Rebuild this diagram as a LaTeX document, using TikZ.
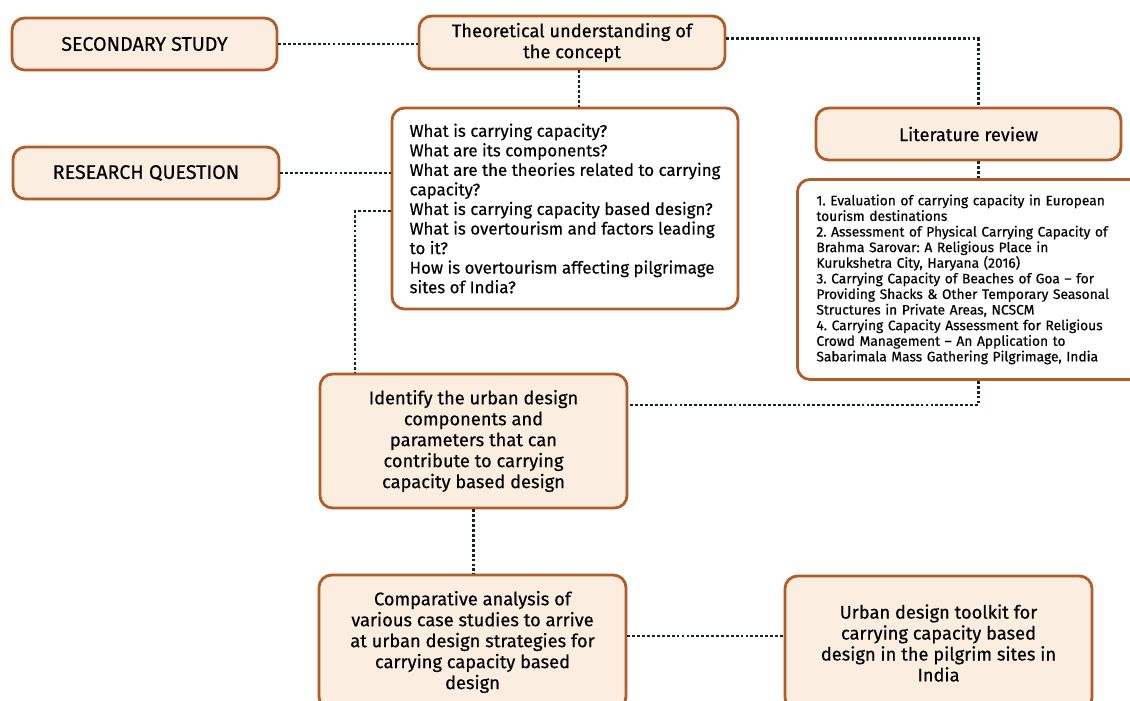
\documentclass[tikz,border=0pt]{standalone}
\usepackage{fontspec}
\setmainfont{Fira Sans}[UprightFeatures={FakeBold=0.35}]
\frenchspacing
\definecolor{boxedge}{RGB}{178,92,40}
\definecolor{boxfill}{RGB}{252,237,225}
\definecolor{dotline}{RGB}{20,38,34}
\begin{document}
\begin{tikzpicture}[x=0.025cm,y=-0.025cm,
    box/.style={draw=boxedge, line width=2pt, fill=boxfill, rounded corners=9pt,
        align=center, inner sep=0pt, font=\fontsize{13}{14.9}\selectfont},
    capsbox/.style={box, font=\fontsize{14}{16}\selectfont},
    link/.style={dotline, line width=2pt, dash pattern=on 2pt off 1.5pt}]
    \useasboundingbox (0,0) rectangle (1130,700);
    % left column
    \node[capsbox, minimum width=6.625cm, minimum height=1.3cm] (sec) at (144.5,44) {SECONDARY STUDY};
    \node[capsbox, minimum width=6.65cm, minimum height=1.3cm] (resq) at (146,173) {RESEARCH QUESTION};
    % middle column
    \node[box, minimum width=7.65cm, minimum height=1.325cm] (theo) at (572,42.5) {Theoretical understanding of\\the concept};
    \node[box, fill=white, align=left, minimum width=8.65cm, minimum height=5.025cm,
        font=\fontsize{12}{13.9}\selectfont] (ques) at (565,208.5)
        {What is carrying capacity?\\What are its components?\\What are the theories related to carrying\\capacity?\\What is carrying capacity based design?\\What is overtourism and factors leading\\to it?\\How is overtourism affecting pilgrimage\\sites of India?};
    \node[box, minimum width=7.675cm, minimum height=3.35cm] (iden) at (473.5,441)
        {Identify the urban design\\components and\\parameters that can\\contribute to carrying\\capacity based design};
    \node[box, minimum width=7.675cm, minimum height=3.35cm] (comp) at (472.5,642)
        {Comparative analysis of\\various case studies to arrive\\at urban design strategies for\\carrying capacity based\\design};
    % right column
    \node[box, minimum width=7.625cm, minimum height=1.3cm] (litr) at (968.5,134) {Literature review};
    \node[box, fill=white, align=left, anchor=north west, text width=8cm, inner xsep=0.475cm,
        minimum height=5cm, font=\fontsize{9.8}{11.1}\selectfont] (lits) at (796,178)
        {1. Evaluation of carrying capacity in European\\tourism destinations\\2. Assessment of Physical Carrying Capacity of\\Brahma Sarovar: A Religious Place in\\Kurukshetra City, Haryana (2016)\\3. Carrying Capacity of Beaches of Goa -- for\\Providing Shacks \& Other Temporary Seasonal\\Structures in Private Areas, NCSCM\\4. Carrying Capacity Assessment for Religious\\Crowd Management -- An Application to\\Sabarimala Mass Gathering Pilgrimage, India};
    \node[box, minimum width=7.675cm, minimum height=3.35cm] (tool) at (938.5,643)
        {Urban design toolkit for\\carrying capacity based\\design in the pilgrim sites in\\India};
    % links
    \coordinate (bendq) at (355,211);
    \draw[link] (sec.east) -- (sec.east -| theo.west);
    \draw[link] ([yshift=0.1cm]theo.east) -| ([xshift=0.24cm]litr.north);
    \draw[link] ([xshift=0.175cm]theo.south) -- ([xshift=0.175cm]theo.south |- ques.north);
    \draw[link] (resq.east) -- (resq.east -| ques.west);
    \draw[link] (bendq -| ques.west) -- (bendq) -- (bendq |- iden.north);
    \draw[link] ([xshift=0.24cm]litr.south) -- ([xshift=0.24cm]litr.south |- lits.north);
    \draw[link] ([xshift=0.24cm]litr.south |- lits.south) |- ([yshift=0.9cm]iden.east);
    \draw[link] (iden.south) -- (iden.south |- comp.north);
    \draw[link] ([yshift=0.15cm]comp.east) -- ([yshift=0.15cm]comp.east -| tool.west);
\end{tikzpicture}
\end{document}
